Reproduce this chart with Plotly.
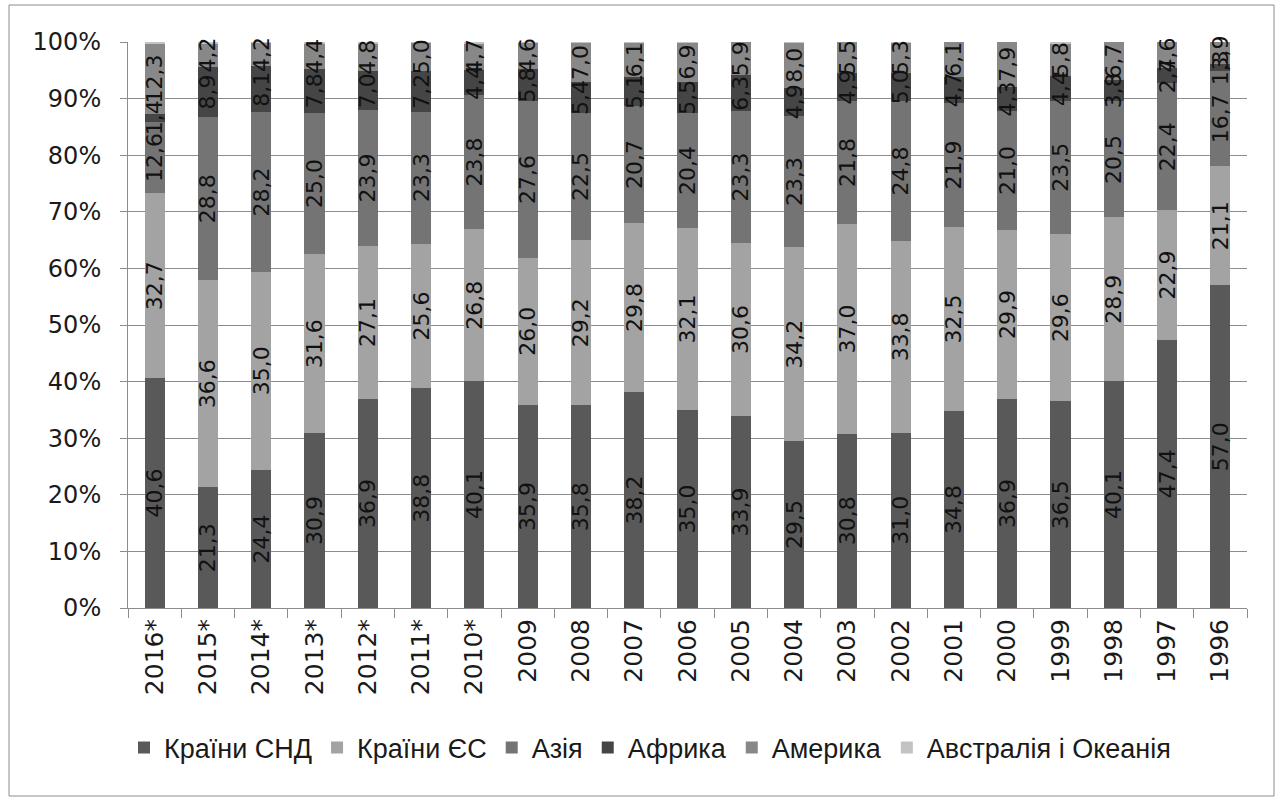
import plotly.graph_objects as go

years = ["2016*", "2015*", "2014*", "2013*", "2012*", "2011*", "2010*", "2009", "2008", "2007",
         "2006", "2005", "2004", "2003", "2002", "2001", "2000", "1999", "1998", "1997", "1996"]

cis = [40.6, 21.3, 24.4, 30.9, 36.9, 38.8, 40.1, 35.9, 35.8, 38.2, 35.0, 33.9, 29.5, 30.8, 31.0, 34.8, 36.9, 36.5, 40.1, 47.4, 57.0]
eu = [32.7, 36.6, 35.0, 31.6, 27.1, 25.6, 26.8, 26.0, 29.2, 29.8, 32.1, 30.6, 34.2, 37.0, 33.8, 32.5, 29.9, 29.6, 28.9, 22.9, 21.1]
asia = [12.6, 28.8, 28.2, 25.0, 23.9, 23.3, 23.8, 27.6, 22.5, 20.7, 20.4, 23.3, 23.3, 21.8, 24.8, 21.9, 21.0, 23.5, 20.5, 22.4, 16.7]
africa = [1.4, 8.9, 8.1, 7.8, 7.0, 7.2, 4.4, 5.8, 5.4, 5.1, 5.5, 6.3, 4.9, 4.9, 5.0, 4.7, 4.3, 4.4, 3.8, 2.7, 1.3]
america = [12.3, 4.2, 4.2, 4.4, 4.8, 5.0, 4.7, 4.6, 7.0, 6.1, 6.9, 5.9, 8.0, 5.5, 5.3, 6.1, 7.9, 5.8, 6.7, 4.6, 3.9]
oceania = [0.4, 0.2, 0.1, 0.3, 0.3, 0.1, 0.2, 0.1, 0.1, 0.1, 0.1, 0.0, 0.1, 0.0, 0.1, 0.0, 0.0, 0.2, 0.0, 0.0, 0.0]

series_names = ["Країни СНД", "Країни ЄС", "Азія", "Африка", "Америка", "Австралія і Океанія"]
series_vals = [cis, eu, asia, africa, america, oceania]
series_labels = [True, True, True, True, True, False]
colors = ["#595959", "#a3a3a3", "#747474", "#454545", "#888888", "#c3c3c3"]

FONT = "DejaVu Sans"


def fmt(v):
    return f"{v:.1f}".replace(".", ",")


fig = go.Figure()

# Coloured bars
for name, vals, col in zip(series_names, series_vals, colors):
    fig.add_trace(go.Bar(
        x=years, y=vals, name=name, marker=dict(color=col, line=dict(width=0)),
        hoverinfo="x+y+name",
    ))

# Transparent label layer drawn on top (overlaid axis)
for name, vals, show in zip(series_names, series_vals, series_labels):
    fig.add_trace(go.Bar(
        x=years, y=vals, name=name, yaxis="y2", showlegend=False,
        marker=dict(color="rgba(0,0,0,0)", line=dict(width=0)),
        text=[fmt(v) for v in vals] if show else None,
        textposition="inside", textangle=-90, insidetextanchor="middle",
        constraintext="none", cliponaxis=False,
        insidetextfont=dict(family=FONT, size=22, color="#111111"),
        hoverinfo="skip",
    ))

W, H = 1281, 801
L, R, T, B = 128, 34, 42, 193
pw, ph = W - L - R, H - T - B


def px_x(p):
    return (p - L) / pw


def px_y(p):
    return (H - B - p) / ph


fig.update_layout(
    width=W, height=H,
    margin=dict(l=L, r=R, t=T, b=B),
    barmode="stack", barnorm="percent", bargap=0.62,
    paper_bgcolor="white", plot_bgcolor="white",
    font=dict(family=FONT, color="#1a1a1a"),
    xaxis=dict(
        type="category", tickangle=-90, tickfont=dict(size=25, family=FONT),
        showline=True, linecolor="#8c8c8c", linewidth=1,
        ticks="outside", ticklen=9, tickcolor="#8c8c8c", tickson="boundaries",
        showgrid=False,
    ),
    yaxis=dict(
        range=[0, 100], dtick=10, ticksuffix="%", tickfont=dict(size=24, family=FONT),
        showline=True, linecolor="#8c8c8c", linewidth=1,
        ticks="outside", ticklen=7, tickcolor="#8c8c8c", ticklabelstandoff=14,
        showgrid=True, gridcolor="#8c8c8c", gridwidth=1, zeroline=False,
    ),
    yaxis2=dict(range=[0, 100], overlaying="y", visible=False, fixedrange=True),
    legend=dict(
        orientation="h", x=px_x(650), xanchor="center", y=px_y(748), yanchor="middle",
        font=dict(size=27, family="Liberation Sans"), itemwidth=30, tracegroupgap=0,
        traceorder="normal", bgcolor="rgba(0,0,0,0)",
    ),
    shapes=[dict(
        type="rect", xref="paper", yref="paper",
        x0=px_x(9), x1=px_x(1274), y0=px_y(796), y1=px_y(5),
        line=dict(color="#8c8c8c", width=1), fillcolor="rgba(0,0,0,0)", layer="below",
    )],
    showlegend=True,
)

fig.write_html("out.html", config={"displayModeBar": False},
               post_script="document.body.style.margin='0';document.body.style.overflow='hidden';")
